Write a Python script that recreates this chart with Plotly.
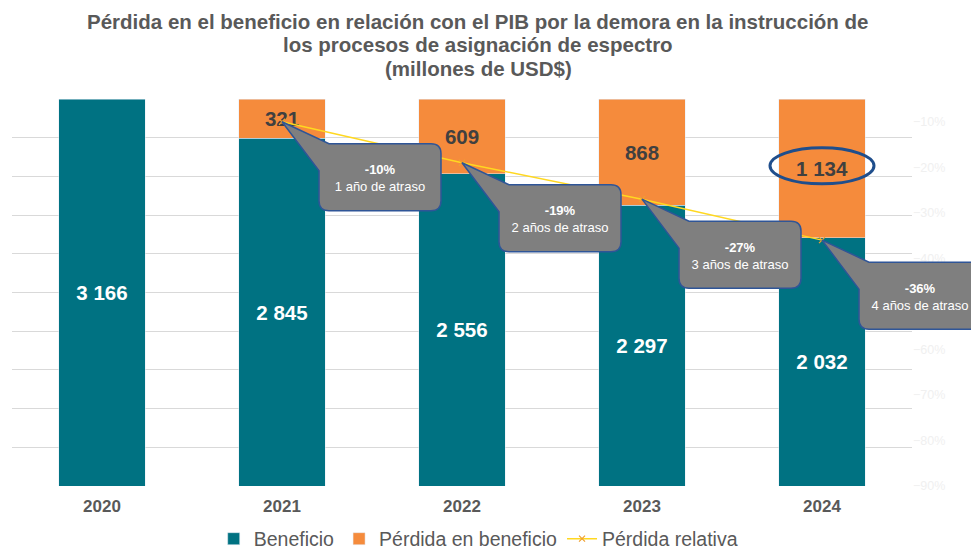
import plotly.graph_objects as go

years = ["2020", "2021", "2022", "2023", "2024"]
beneficio = [3166, 2845, 2556, 2297, 2032]
perdida = [None, 321, 609, 868, 1134]
perdida_rel = [None, -0.10, -0.19, -0.27, -0.36]
callout_labels = [None, "1 año de atraso", "2 años de atraso", "3 años de atraso", "4 años de atraso"]
title_lines = [
    "Pérdida en el beneficio en relación con el PIB por la demora en la instrucción de",
    "los procesos de asignación de espectro",
    "(millones de USD$)",
]

TEAL = "#007282"
ORANGE = "#F58B3C"
GRAY_TXT = "#595959"
FONT = "Liberation Sans, Arial"

fig = go.Figure()
fig.add_trace(go.Bar(
    x=years, y=beneficio, name="Beneficio", marker_color=TEAL,
    texttemplate="%{y:,d}", textposition="inside", insidetextanchor="middle",
    textfont=dict(color="white", size=20.5, family=FONT, weight="bold"),
    yaxis="y",
))
fig.add_trace(go.Bar(
    x=years, y=perdida, name="Pérdida en beneficio", marker_color=ORANGE,
    texttemplate="%{y:,d}", textposition="inside", insidetextanchor="middle",
    textfont=dict(color="#404040", size=20.5, family=FONT, weight="bold"),
    yaxis="y",
))
fig.add_trace(go.Scatter(
    x=years, y=perdida_rel, name="Pérdida relativa", mode="lines+markers",
    line=dict(color="#FFD820", width=1.5),
    marker=dict(symbol="x-thin", size=6, line=dict(color="#F0A030", width=1.2), color="#F0A030"),
    yaxis="y2",
))

n = len(years)
shapes = []
annotations = []
# Callout path (pixels relative to tip; y positive upward)
L, R, T, B, r = 37, 159, -22, -89, 10
cx, cy = (L + R) / 2, (T + B) / 2
path = (f"M 0,0 L 47,{T} L {R - r},{T} Q {R},{T} {R},{T - r} "
        f"L {R},{B + r} Q {R},{B} {R - r},{B} L {L + r},{B} Q {L},{B} {L},{B + r} "
        f"L {L},-49 Z M {2 * cx},{2 * cy}")
for i, (yr, v, lab) in enumerate(zip(years, perdida_rel, callout_labels)):
    if v is None:
        continue
    shapes.append(dict(
        type="path", xref="x domain", yref="y2",
        xsizemode="pixel", ysizemode="pixel",
        xanchor=(i + 0.5) / n, yanchor=v, path=path,
        fillcolor="#7F7F7F", line=dict(color="#2F5597", width=1.5), layer="above",
        label=dict(
            text=f"<b>{v * 100:.0f}%</b><br>{lab}",
            textposition="middle center",
            font=dict(color="white", size=13, family=FONT),
        ),
    ))

# Ellipse highlighting last loss value
shapes.append(dict(
    type="circle", xref="x", yref="y", xsizemode="pixel", ysizemode="pixel",
    xanchor=n - 1, yanchor=beneficio[-1] + perdida[-1] / 2 + 20,
    x0=-52, x1=52, y0=-18, y1=18,
    line=dict(color="#1F4E8C", width=3), layer="above",
))

# Title lines
for line, ypx in zip(title_lines, [22, 45, 68]):
    annotations.append(dict(
        text=f"<b>{line}</b>", xref="paper", yref="paper",
        x=(478 - 12) / 900, y=(486 - ypx) / 387, xanchor="center", yanchor="middle",
        showarrow=False, font=dict(size=20.5, color=GRAY_TXT, family=FONT),
    ))

fig.update_layout(
    width=971, height=550,
    margin=dict(l=12, r=59, t=99, b=64, autoexpand=False),
    paper_bgcolor="white", plot_bgcolor="white",
    barmode="stack", bargap=0.52,
    separators=", ",
    font=dict(family=FONT, color=GRAY_TXT),
    xaxis=dict(
        type="category", categoryorder="array", categoryarray=years,
        range=[-0.5, n - 0.5], autorange=False, automargin=False,
        showgrid=False, ticks="", showline=False,
        tickfont=dict(size=17, color=GRAY_TXT, weight="bold"),
        ticklabelstandoff=8,
    ),
    yaxis=dict(
        range=[0, 3166], dtick=316.6, tick0=0, showticklabels=False,
        gridcolor="#D9D9D9", gridwidth=1, zeroline=False, automargin=False,
    ),
    yaxis2=dict(
        overlaying="y", side="right", range=[-0.90, -0.05], automargin=False,
        tick0=0, dtick=0.1, tickformat=".0%", showgrid=False, zeroline=False,
        tickfont=dict(size=12.5, color="#F0F0F0"),
    ),
    legend=dict(
        orientation="h", x=0.518, xanchor="center", y=(486 - 539) / 387, yanchor="middle",
        traceorder="normal",
        font=dict(size=19.5, color=GRAY_TXT), itemwidth=30, tracegroupgap=0,
    ),
    shapes=shapes, annotations=annotations,
)

fig.write_html("out.html", post_script="document.body.style.margin='0';",
               config={"displayModeBar": False})
